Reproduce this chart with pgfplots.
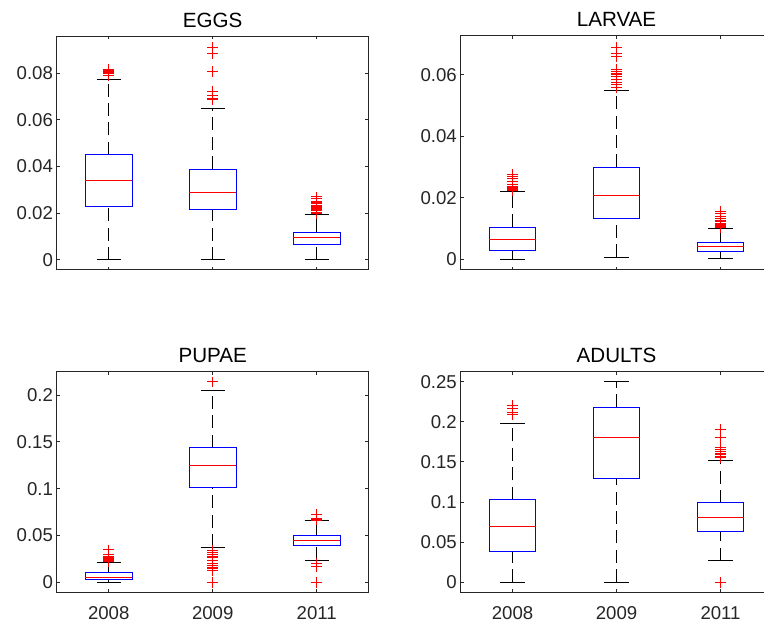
\documentclass[border=0pt]{standalone}
\usepackage{pgfplots}
\pgfplotsset{compat=1.18}
\usepackage{fontspec}
\setmainfont{Liberation Sans}
\definecolor{axgray}{rgb}{0.15,0.15,0.15}
\definecolor{mblue}{rgb}{0,0,1}
\definecolor{mred}{rgb}{1,0,0}

% matlab-like boxplot panel; boxes drawn as plain plots, nan = break
\pgfplotsset{
  mpanel/.style={
    scale only axis, width=156pt,
    xmin=0.5, xmax=3.5, xtick={1,2,3},
    scaled y ticks=false, unbounded coords=jump,
    tick align=inside, major tick length=1.6pt,
    axis line style={draw=axgray, line width=0.5pt},
    every tick/.style={draw=axgray, line width=0.5pt},
    tick label style={font=\fontsize{9.3}{11}\selectfont, text=axgray, inner sep=0pt},
    yticklabel style={anchor=east, xshift=-1.7pt},
    xticklabel style={anchor=north, yshift=-7pt},
    every axis title/.style={at={(0.5,1)}, anchor=base, yshift=4.5pt, inner sep=0pt,
      font=\fontsize{10.3}{12}\selectfont},
  },
  wsk/.style={black, line width=0.5pt, dash pattern=on 6.5pt off 3.2pt, mark=none},
  wcap/.style={black, line width=0.5pt, mark=none},
  bx/.style={mblue, line width=0.5pt, mark=none},
  md/.style={mred, line width=0.5pt, mark=none},
  outl/.style={only marks, mark=+, mark size=2.7pt,
    mark options={draw=mred, line width=0.5pt}},
}

\begin{document}
\begin{tikzpicture}
\useasboundingbox (0,0) rectangle (382pt,310.5pt);
\clip (0,0) rectangle (382pt,310.5pt);

% EGGS
\begin{axis}[mpanel, at={(28.35pt,175.5pt)}, anchor=south west, height=117pt,
  title={EGGS}, ymin=-0.0043, ymax=0.0959,
  ytick={0,0.02,0.04,0.06,0.08}, yticklabels={0,0.02,0.04,0.06,0.08},
  xticklabels={}]
\addplot[wsk] coordinates {
  (1,0) (1,0.0231) (1,nan) (1,0.0450) (1,0.0774) (1,nan)
  (2,0) (2,0.0214) (2,nan) (2,0.0389) (2,0.0649) (2,nan)
  (3,0) (3,0.0067) (3,nan) (3,0.0118) (3,0.0195)};
\addplot[wcap] coordinates {
  (0.883,0) (1.117,0) (1,nan) (0.883,0.0774) (1.117,0.0774) (1,nan)
  (1.883,0) (2.117,0) (2,nan) (1.883,0.0649) (2.117,0.0649) (2,nan)
  (2.883,0) (3.117,0) (3,nan) (2.883,0.0195) (3.117,0.0195)};
\addplot[bx] coordinates {
  (0.775,0.0231) (1.225,0.0231) (1.225,0.0450) (0.775,0.0450) (0.775,0.0231) (1,nan)
  (1.775,0.0214) (2.225,0.0214) (2.225,0.0389) (1.775,0.0389) (1.775,0.0214) (2,nan)
  (2.775,0.0067) (3.225,0.0067) (3.225,0.0118) (2.775,0.0118) (2.775,0.0067)};
\addplot[md] coordinates {
  (0.775,0.0342) (1.225,0.0342) (1,nan)
  (1.775,0.0290) (2.225,0.0290) (2,nan)
  (2.775,0.0095) (3.225,0.0095)};
\addplot[outl] coordinates {
  (1,0.0790) (1,0.0797) (1,0.0802) (1,0.0806) (1,0.0810) (1,0.0815)
  (2,0.0688) (2,0.0693) (2,0.0705) (2,0.0723) (2,0.0808) (2,0.0883) (2,0.0911)
  (3,0.0200) (3,0.0205) (3,0.0210) (3,0.0215) (3,0.0220) (3,0.0225) (3,0.0230)
  (3,0.0235) (3,0.0240) (3,0.0245) (3,0.0250) (3,0.0262) (3,0.0270)};
\end{axis}

% LARVAE
\begin{axis}[mpanel, at={(230.25pt,175.5pt)}, anchor=south west, height=117pt,
  title={LARVAE}, ymin=-0.0034, ymax=0.0726,
  ytick={0,0.02,0.04,0.06}, yticklabels={0,0.02,0.04,0.06},
  xticklabels={}]
\addplot[wsk] coordinates {
  (1,0) (1,0.0029) (1,nan) (1,0.0105) (1,0.0221) (1,nan)
  (2,0.0008) (2,0.0133) (2,nan) (2,0.0299) (2,0.0548) (2,nan)
  (3,0.0004) (3,0.0027) (3,nan) (3,0.0055) (3,0.0101)};
\addplot[wcap] coordinates {
  (0.883,0) (1.117,0) (1,nan) (0.883,0.0221) (1.117,0.0221) (1,nan)
  (1.883,0.0008) (2.117,0.0008) (2,nan) (1.883,0.0548) (2.117,0.0548) (2,nan)
  (2.883,0.0004) (3.117,0.0004) (3,nan) (2.883,0.0101) (3.117,0.0101)};
\addplot[bx] coordinates {
  (0.775,0.0029) (1.225,0.0029) (1.225,0.0105) (0.775,0.0105) (0.775,0.0029) (1,nan)
  (1.775,0.0133) (2.225,0.0133) (2.225,0.0299) (1.775,0.0299) (1.775,0.0133) (2,nan)
  (2.775,0.0027) (3.225,0.0027) (3.225,0.0055) (2.775,0.0055) (2.775,0.0027)};
\addplot[md] coordinates {
  (0.775,0.0064) (1.225,0.0064) (1,nan)
  (1.775,0.0207) (2.225,0.0207) (2,nan)
  (2.775,0.0041) (3.225,0.0041)};
\addplot[outl] coordinates {
  (1,0.0225) (1,0.0228) (1,0.0230) (1,0.0233) (1,0.0236) (1,0.0245) (1,0.0252)
  (1,0.0262) (1,0.0270) (1,0.0275)
  (2,0.0560) (2,0.0568) (2,0.0575) (2,0.0585) (2,0.0595) (2,0.0600) (2,0.0605)
  (2,0.0612) (2,0.0618) (2,0.0658) (2,0.0668) (2,0.0690)
  (3,0.0104) (3,0.0107) (3,0.0110) (3,0.0113) (3,0.0117) (3,0.0122) (3,0.0128)
  (3,0.0134) (3,0.0140) (3,0.0148) (3,0.0155)};
\end{axis}

% PUPAE
\begin{axis}[mpanel, at={(28.35pt,14.35pt)}, anchor=south west, height=110.3pt,
  title={PUPAE}, ymin=-0.0107, ymax=0.2249,
  ytick={0,0.05,0.1,0.15,0.2}, yticklabels={0,0.05,0.1,0.15,0.2},
  xticklabels={2008,2009,2011}]
\addplot[wsk] coordinates {
  (1,0) (1,0.0025) (1,nan) (1,0.0103) (1,0.0214) (1,nan)
  (2,0.0374) (2,0.1014) (2,nan) (2,0.1438) (2,0.2053) (2,nan)
  (3,0.0238) (3,0.0388) (3,nan) (3,0.0498) (3,0.0655)};
\addplot[wcap] coordinates {
  (0.883,0) (1.117,0) (1,nan) (0.883,0.0214) (1.117,0.0214) (1,nan)
  (1.883,0.0374) (2.117,0.0374) (2,nan) (1.883,0.2053) (2.117,0.2053) (2,nan)
  (2.883,0.0238) (3.117,0.0238) (3,nan) (2.883,0.0655) (3.117,0.0655)};
\addplot[bx] coordinates {
  (0.775,0.0025) (1.225,0.0025) (1.225,0.0103) (0.775,0.0103) (0.775,0.0025) (1,nan)
  (1.775,0.1014) (2.225,0.1014) (2.225,0.1438) (1.775,0.1438) (1.775,0.1014) (2,nan)
  (2.775,0.0388) (3.225,0.0388) (3.225,0.0498) (2.775,0.0498) (2.775,0.0388)};
\addplot[md] coordinates {
  (0.775,0.0050) (1.225,0.0050) (1,nan)
  (1.775,0.1242) (2.225,0.1242) (2,nan)
  (2.775,0.0448) (3.225,0.0448)};
\addplot[outl] coordinates {
  (1,0.0220) (1,0.0228) (1,0.0235) (1,0.0242) (1,0.0250) (1,0.0258) (1,0.0265)
  (1,0.0272) (1,0.0300) (1,0.0345)
  (2,0) (2,0.0125) (2,0.0145) (2,0.0160) (2,0.0180) (2,0.0205) (2,0.0235)
  (2,0.0260) (2,0.0280) (2,0.0300) (2,0.0320) (2,0.0340) (2,0.2139)
  (3,0) (3,0.0170) (3,0.0205) (3,0.0665) (3,0.0675) (3,0.0685) (3,0.0720)};
\end{axis}

% ADULTS
\begin{axis}[mpanel, at={(230.25pt,14.35pt)}, anchor=south west, height=110.3pt,
  title={ADULTS}, ymin=-0.0125, ymax=0.2624,
  ytick={0,0.05,0.1,0.15,0.2,0.25}, yticklabels={0,0.05,0.1,0.15,0.2,0.25},
  xticklabels={2008,2009,2011}]
\addplot[wsk] coordinates {
  (1,0) (1,0.0386) (1,nan) (1,0.1030) (1,0.1981) (1,nan)
  (2,0) (2,0.1287) (2,nan) (2,0.2180) (2,0.2500) (2,nan)
  (3,0.0270) (3,0.0635) (3,nan) (3,0.0988) (3,0.1512)};
\addplot[wcap] coordinates {
  (0.883,0) (1.117,0) (1,nan) (0.883,0.1981) (1.117,0.1981) (1,nan)
  (1.883,0) (2.117,0) (2,nan) (1.883,0.2500) (2.117,0.2500) (2,nan)
  (2.883,0.0270) (3.117,0.0270) (3,nan) (2.883,0.1512) (3.117,0.1512)};
\addplot[bx] coordinates {
  (0.775,0.0386) (1.225,0.0386) (1.225,0.1030) (0.775,0.1030) (0.775,0.0386) (1,nan)
  (1.775,0.1287) (2.225,0.1287) (2.225,0.2180) (1.775,0.2180) (1.775,0.1287) (2,nan)
  (2.775,0.0635) (3.225,0.0635) (3.225,0.0988) (2.775,0.0988) (2.775,0.0635)};
\addplot[md] coordinates {
  (0.775,0.0689) (1.225,0.0689) (1,nan)
  (1.775,0.1802) (2.225,0.1802) (2,nan)
  (2.775,0.0806) (3.225,0.0806)};
\addplot[outl] coordinates {
  (1,0.2090) (1,0.2120) (1,0.2170) (1,0.2200)
  (3,0) (3,0.1550) (3,0.1570) (3,0.1590) (3,0.1610) (3,0.1630) (3,0.1660)
  (3,0.1680) (3,0.1810) (3,0.1900)};
\end{axis}
\end{tikzpicture}
\end{document}
